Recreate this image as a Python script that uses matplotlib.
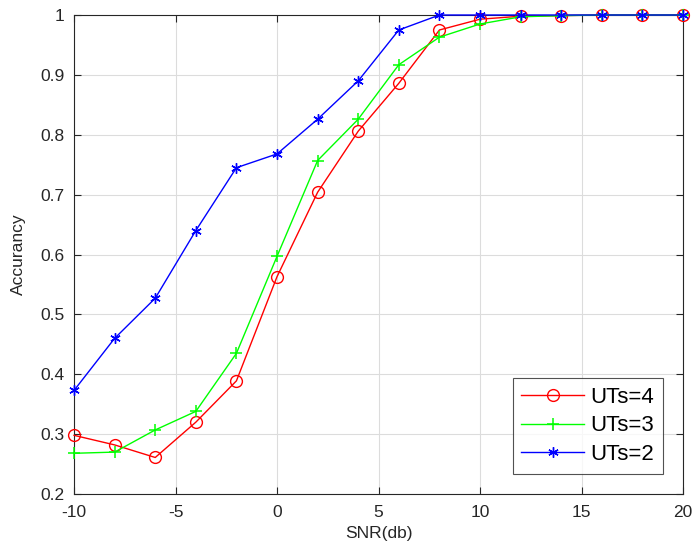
import matplotlib.pyplot as plt
import numpy as np

plt.rcParams['font.family'] = ['Liberation Sans', 'DejaVu Sans']
plt.rcParams['axes.unicode_minus'] = False

snr = [-10, -8, -6, -4, -2, 0, 2, 4, 6, 8, 10, 12, 14, 16, 18, 20]
acc_ut4 = [0.298, 0.282, 0.261, 0.320, 0.389, 0.563, 0.704, 0.806, 0.886, 0.975,
           0.993, 0.998, 0.999, 1.0, 1.0, 1.0]
acc_ut3 = [0.268, 0.270, 0.307, 0.338, 0.435, 0.597, 0.757, 0.826, 0.917, 0.963,
           0.985, 0.997, 0.999, 1.0, 1.0, 1.0]
acc_ut2 = [0.373, 0.460, 0.527, 0.640, 0.745, 0.768, 0.826, 0.890, 0.975, 1.0,
           1.0, 1.0, 1.0, 1.0, 1.0, 1.0]

fig = plt.figure(figsize=(6.92, 5.56), dpi=100)
ax = fig.add_axes([0.107, 0.1115, 0.880, 0.8615])

ax.plot(snr, acc_ut4, color='#ff0000', marker='o', markersize=8.5, markerfacecolor='none',
        linewidth=1, label='UTs=4', clip_on=False, zorder=3)
ax.plot(snr, acc_ut3, color='#00ff00', marker='+', markersize=9, markeredgewidth=1.1,
        linewidth=1, label='UTs=3', clip_on=False, zorder=3)
ax.plot(snr, acc_ut2, color='#0000ff', marker=(6, 2, 0), markersize=7.5, markeredgewidth=1.0,
        linewidth=1, label='UTs=2', clip_on=False, zorder=3)

ax.set_xlim(-10, 20)
ax.set_ylim(0.2, 1.0)
ax.set_xticks(np.arange(-10, 21, 5))
ax.set_yticks(np.arange(0.2, 1.01, 0.1))
ax.set_yticklabels(['0.2', '0.3', '0.4', '0.5', '0.6', '0.7', '0.8', '0.9', '1'])
ax.grid(True, color='#dcdcdc', linewidth=0.8)
ax.set_axisbelow(True)
ax.tick_params(direction='in', top=True, right=True, labelsize=12.5, length=5,
               colors='#262626')
ax.tick_params(axis='x', pad=8)
ax.tick_params(axis='y', pad=7)
for s in ax.spines.values():
    s.set_color('#262626')
ax.set_xlabel('SNR(db)', fontsize=12.5, color='#262626', labelpad=4)
ax.set_ylabel('Accurancy', fontsize=12.5, color='#262626', labelpad=10)

leg = ax.legend(loc='lower right', fontsize=16, fancybox=False, edgecolor='#262626',
                handlelength=2.8, borderaxespad=0.9, labelspacing=0.35, handletextpad=0.3)
leg.get_frame().set_linewidth(0.8)
leg.set_zorder(5)

fig.savefig('out.png', dpi=100)
